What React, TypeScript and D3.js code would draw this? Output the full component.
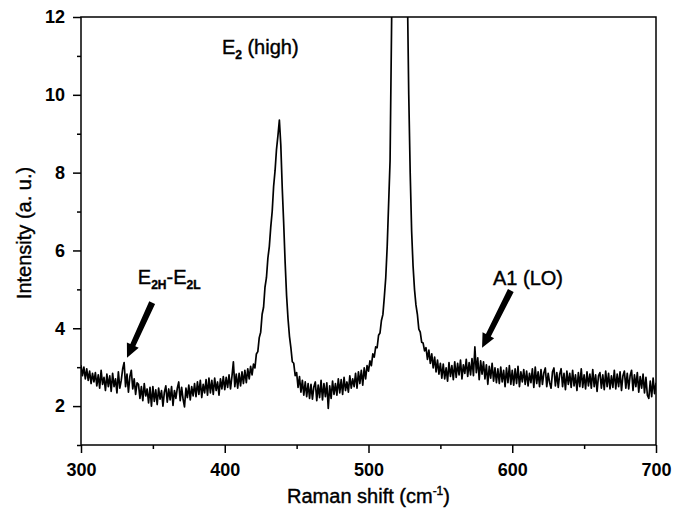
import * as d3 from "d3";
import { useEffect, useRef } from "react";

// Raman shift grid, 1 cm-1 step from 300 to 700
const ramanShift = d3.range(300, 701);

// intensity, one value per cm-1 (300 ... 700)
const intensity = [
  3.05, 2.78, 3.00, 2.70, 2.96, 2.66, 2.90, 2.58, 2.84, 2.62,
  2.86, 2.52, 2.80, 2.46, 2.92, 2.56, 2.74, 2.40, 2.82, 2.50,
  2.78, 2.38, 2.84, 2.50, 2.70, 2.34, 2.88, 2.46, 2.66, 2.96,
  3.12, 2.50, 2.82, 2.36, 2.76, 2.92, 2.44, 2.70, 2.30, 2.60,
  2.56, 2.20, 2.50, 2.14, 2.58, 2.26, 2.44, 2.08, 2.48, 2.00,
  2.50, 2.12, 2.42, 2.04, 2.46, 2.18, 2.40, 2.00, 2.36, 2.52,
  2.10, 2.44, 2.16, 2.50, 2.02, 2.40, 2.20, 2.46, 2.62, 2.14,
  2.48, 2.18, 1.98, 2.46, 2.22, 2.54, 2.16, 2.50, 2.26, 2.58,
  2.24, 2.62, 2.30, 2.66, 2.22, 2.56, 2.34, 2.68, 2.28, 2.72,
  2.34, 2.66, 2.30, 2.72, 2.40, 2.62, 2.28, 2.70, 2.44, 2.76,
  2.42, 2.74, 2.48, 2.80, 2.44, 2.76, 3.14, 2.50, 2.82, 2.46,
  2.84, 2.52, 2.88, 2.58, 2.92, 2.60, 2.96, 2.70, 3.02, 2.80,
  3.08, 2.98, 3.34, 3.40, 3.76, 3.90, 4.36, 4.54, 5.06, 5.30,
  5.80, 6.10, 6.60, 7.00, 7.65, 8.05, 8.60, 8.95, 9.35, 8.70,
  7.60, 6.70, 5.70, 4.85, 4.25, 3.80, 3.50, 3.14, 3.10, 2.78,
  2.86, 2.48, 2.76, 2.36, 2.66, 2.28, 2.62, 2.24, 2.58, 2.20,
  2.56, 2.18, 2.50, 2.62, 2.14, 2.54, 2.22, 2.66, 2.16, 2.58,
  2.24, 2.60, 1.94, 2.52, 2.20, 2.64, 2.30, 2.58, 2.28, 2.70,
  2.34, 2.68, 2.30, 2.74, 2.40, 2.62, 2.36, 2.78, 2.46, 2.70,
  2.50, 2.84, 2.46, 2.88, 2.58, 2.92, 2.54, 2.98, 2.70, 3.04,
  2.90, 3.16, 3.04, 3.34, 3.26, 3.52, 3.50, 3.82, 3.88, 4.20,
  4.35, 4.80, 5.30, 6.10, 7.20, 8.30, 11.60, 15.0, 19.0, 23.0,
  26.0, 27.5, 27.0, 25.0, 22.0, 18.5, 15.0, 12.8, 10.0, 8.00,
  6.50, 5.60, 5.00, 4.60, 4.36, 3.98, 3.90, 3.64, 3.62, 3.42,
  3.50, 3.20, 3.44, 3.10, 3.34, 2.98, 3.26, 2.88, 3.18, 2.82,
  3.10, 2.72, 3.08, 2.70, 2.98, 2.64, 3.12, 2.76, 3.04, 2.68,
  3.14, 2.74, 3.10, 2.80, 3.18, 2.70, 3.06, 2.84, 3.20, 2.76,
  3.12, 2.80, 3.22, 2.78, 3.52, 2.86, 3.24, 2.68, 3.16, 2.82,
  3.14, 2.70, 3.06, 2.56, 3.02, 2.72, 3.10, 2.64, 2.98, 2.60,
  2.96, 2.58, 3.00, 2.62, 2.92, 2.50, 2.98, 2.60, 3.04, 2.56,
  2.92, 2.54, 2.96, 2.58, 3.02, 2.50, 2.88, 2.62, 2.94, 2.56,
  2.90, 2.52, 2.84, 2.60, 2.96, 2.48, 3.00, 2.58, 2.88, 2.50,
  2.94, 2.56, 2.86, 2.98, 2.50, 2.84, 2.60, 2.46, 2.88, 2.98,
  2.52, 2.86, 2.48, 2.82, 2.96, 2.50, 2.84, 2.42, 2.90, 2.56,
  2.84, 2.48, 2.92, 2.52, 2.80, 2.40, 2.86, 2.50, 2.96, 2.48,
  2.80, 2.44, 2.88, 2.52, 2.82, 2.46, 2.94, 2.50, 2.80, 2.38,
  2.78, 2.86, 2.46, 2.80, 2.42, 2.90, 2.50, 2.84, 2.44, 2.78,
  2.48, 2.92, 2.44, 2.82, 2.50, 2.88, 2.40, 2.78, 2.90, 2.46,
  2.84, 2.44, 2.78, 2.92, 2.40, 2.80, 2.50, 2.86, 2.36, 2.76,
  2.46, 2.82, 2.34, 2.74, 2.28, 2.20, 2.64, 2.24, 2.72, 2.32,
  2.60,
];

const xTicks = [300, 400, 500, 600, 700];
const xMinorTicks = [350, 450, 550, 650];
const yTicks = [2, 4, 6, 8, 10, 12];
const yMinorTicks = [1, 3, 5, 7, 9, 11];

const font = "'Liberation Sans', Arial, sans-serif";

function App() {
  const ref = useRef(null);

  useEffect(() => {
    document.body.style.margin = "0";
    const svg = d3.select(ref.current);
    svg.selectAll("*").remove();

    const margin = { top: 17, right: 27, bottom: 65, left: 81 };
    const width = 683 - margin.left - margin.right;
    const height = 510 - margin.top - margin.bottom;

    const g = svg
      .append("g")
      .attr("transform", `translate(${margin.left},${margin.top})`);

    const x = d3.scaleLinear().domain([300, 700]).range([0, width]);
    const y = d3.scaleLinear().domain([1, 12]).range([height, 0]);

    g.append("clipPath")
      .attr("id", "plot-clip")
      .append("rect")
      .attr("width", width)
      .attr("height", height);

    // spectrum
    const line = d3
      .line()
      .x((d) => x(d[0]))
      .y((d) => y(d[1]));

    g.append("path")
      .datum(ramanShift.map((s, i) => [s, intensity[i]]))
      .attr("clip-path", "url(#plot-clip)")
      .attr("fill", "none")
      .attr("stroke", "#000")
      .attr("stroke-width", 1.7)
      .attr("stroke-linejoin", "round")
      .attr("d", line);

    // x axis
    const xAxis = g
      .append("g")
      .attr("transform", `translate(0,${height})`)
      .call(d3.axisBottom(x).tickValues(xTicks).tickSize(8).tickPadding(10).tickSizeOuter(0));
    g.append("g")
      .attr("transform", `translate(0,${height})`)
      .call(d3.axisBottom(x).tickValues(xMinorTicks).tickSize(4).tickFormat(() => "").tickSizeOuter(0))
      .select(".domain")
      .remove();

    // y axis
    const yAxis = g
      .append("g")
      .call(d3.axisLeft(y).tickValues(yTicks).tickSize(8).tickPadding(8).tickSizeOuter(0));
    g.append("g")
      .call(d3.axisLeft(y).tickValues(yMinorTicks).tickSize(4).tickFormat(() => "").tickSizeOuter(0))
      .select(".domain")
      .remove();

    [xAxis, yAxis].forEach((a) => {
      a.select(".domain").remove();
      a.selectAll("text")
        .attr("font-family", font)
        .attr("font-size", 18)
        .attr("font-weight", "bold")
        .attr("fill", "#000");
    });
    svg.selectAll(".tick line").attr("stroke", "#000").attr("stroke-width", 1.5);

    // frame
    g.append("rect")
      .attr("width", width)
      .attr("height", height)
      .attr("fill", "none")
      .attr("stroke", "#000")
      .attr("stroke-width", 1.5);

    // axis titles (thin stroke gives the heavier look of the original)
    const xt = svg
      .append("text")
      .attr("x", margin.left + width / 2)
      .attr("y", 503)
      .attr("text-anchor", "middle")
      .attr("font-family", font)
      .attr("font-size", 20)
      .attr("fill", "#000")
      .attr("stroke", "#000")
      .attr("stroke-width", 0.4);
    xt.append("tspan").text("Raman shift (cm");
    xt.append("tspan").attr("font-size", 12).attr("dy", -8).text("-1");
    xt.append("tspan").attr("dy", 8).text(")");

    svg
      .append("text")
      .attr("transform", `translate(31,${margin.top + height / 2 + 2}) rotate(-90)`)
      .attr("text-anchor", "middle")
      .attr("font-family", font)
      .attr("font-size", 20)
      .attr("fill", "#000")
      .attr("stroke", "#000")
      .attr("stroke-width", 0.4)
      .text("Intensity (a. u.)");

    // peak labels, parts flagged true are subscripts
    const label = (px, py, parts) => {
      const t = g
        .append("text")
        .attr("x", x(px))
        .attr("y", y(py))
        .attr("font-family", font)
        .attr("font-size", 20)
        .attr("fill", "#000")
        .attr("stroke", "#000")
        .attr("stroke-width", 0.4);
      let down = false;
      parts.forEach(([s, sub]) => {
        const dy = sub ? (down ? 0 : 5) : down ? -5 : 0;
        down = !!sub;
        t.append("tspan")
          .attr("dy", dy)
          .attr("font-size", sub ? 12 : 20)
          .attr("font-weight", sub ? "bold" : "normal")
          .text(s);
      });
    };
    label(398, 11.05, [["E"], ["2", true], [" (high)"]]);
    label(339.5, 5.15, [["E"], ["2H", true], ["-E"], ["2L", true]]);
    label(586.6, 5.1, [["A1 (LO)"]]);

    // arrows
    const arrow = (x0, y0, x1, y1) => {
      const ax = x(x0), ay = y(y0), bx = x(x1), by = y(y1);
      const len = Math.hypot(bx - ax, by - ay);
      const ang = (Math.atan2(by - ay, bx - ax) * 180) / Math.PI;
      const head = 14, sw = 3.2, hw = 6.5;
      g.append("path")
        .attr("transform", `translate(${ax},${ay}) rotate(${ang})`)
        .attr("d", `M0,${-sw}L${len - head},${-sw * 0.85}L${len - head},${-hw}L${len},0L${len - head},${hw}L${len - head},${sw * 0.85}L0,${sw}Z`)
        .attr("fill", "#000");
    };
    arrow(349.5, 4.66, 332, 3.24);
    arrow(599, 4.97, 579, 3.5);
  }, []);

  return <svg ref={ref} width={683} height={510} style={{ display: "block" }} />;
}

export default App;
